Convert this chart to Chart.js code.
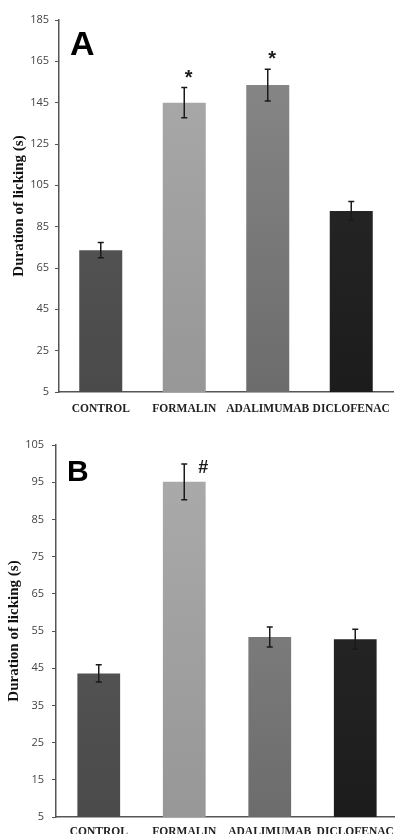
<!DOCTYPE html>
<html>
<head>
<meta charset="utf-8">
<script src="https://cdn.jsdelivr.net/npm/chart.js@4.4.1/dist/chart.umd.min.js"></script>
<style>
	html, body { margin: 0; padding: 0; background: #fff; overflow: hidden; }
	.panel { position: relative; overflow: hidden; width: 395px; }
	#panelA { height: 420px; }
	#panelB { height: 414px; }
	canvas { display: block; }
</style>
</head>
<body>
<div class="panel" id="panelA"><canvas id="chartA" width="395" height="420"></canvas></div>
<div class="panel" id="panelB"><canvas id="chartB" width="400" height="414"></canvas></div>
<script>
const groups = ["CONTROL", "FORMALIN", "ADALIMUMAB", "DICLOFENAC"];

/* Panel A */
const lickingA = [73.6, 145.0, 153.5, 92.6];
const errorA = [3.7, 7.3, 7.7, 4.6];
const marksA = ["", "*", "*", ""];
const ticksA = [5, 25, 45, 65, 85, 105, 125, 145, 165, 185];

/* Panel B */
const lickingB = [43.6, 95.1, 53.4, 52.8];
const errorB = [2.3, 4.8, 2.7, 2.7];
const marksB = ["", "#", "", ""];
const ticksB = [5, 15, 25, 35, 45, 55, 65, 75, 85, 95, 105];

const barTop = ["#5e5e5e", "#ababab", "#8a8a8a", "#2c2c2c"];
const barBottom = ["#4a4a4a", "#979797", "#6c6c6c", "#1c1c1c"];

const barFill = (context) => {
	const area = context.chart.chartArea;
	if (!area) return barTop[context.dataIndex];
	const g = context.chart.ctx.createLinearGradient(0, area.top, 0, area.bottom);
	g.addColorStop(0, barTop[context.dataIndex]);
	g.addColorStop(1, barBottom[context.dataIndex]);
	return g;
};

const errorBarPlugin = {
	id: "errorBars",
	afterDatasetsDraw(chart, args, opts) {
		const ctx = chart.ctx;
		const yScale = chart.scales.y;
		const meta = chart.getDatasetMeta(0);
		const values = chart.data.datasets[0].data;

		ctx.save();
		ctx.strokeStyle = "#1a1a1a";
		ctx.lineWidth = 1.5;

		meta.data.forEach((bar, i) => {
			const top = yScale.getPixelForValue(values[i] + opts.errors[i]);
			const bottom = yScale.getPixelForValue(values[i] - opts.errors[i]);
			ctx.beginPath();
			ctx.moveTo(bar.x, top);
			ctx.lineTo(bar.x, bottom);
			ctx.moveTo(bar.x - 3, top);
			ctx.lineTo(bar.x + 3, top);
			ctx.moveTo(bar.x - 3, bottom);
			ctx.lineTo(bar.x + 3, bottom);
			ctx.stroke();

			const mark = opts.marks[i];
			if (mark) {
				ctx.fillStyle = "#1a1a1a";
				ctx.font = opts.markFont;
				ctx.textAlign = "center";
				ctx.textBaseline = "alphabetic";
				ctx.fillText(mark, bar.x + opts.markDx, top + opts.markDy);
			}
		});

		// panel letter
		const area = chart.chartArea;
		ctx.fillStyle = "#000";
		ctx.font = opts.letterFont;
		ctx.textAlign = "left";
		ctx.textBaseline = "alphabetic";
		ctx.fillText(opts.letter, area.left + 11, area.top + opts.letterDy);
		ctx.restore();
	}
};

function createPanel(canvasId, values, cfg) {
	const canvas = document.getElementById(canvasId);

	return new Chart(canvas, {
		type: "bar",
		data: {
			labels: groups,
			datasets: [{
				data: values,
				backgroundColor: barFill,
				borderWidth: 0,
				categoryPercentage: 1,
				barPercentage: cfg.barPercentage
			}]
		},
		options: {
			responsive: false,
			animation: false,
			devicePixelRatio: 1,
			layout: {
				padding: { left: 0, right: 2, top: cfg.top, bottom: 0 }
			},
			plugins: {
				legend: { display: false },
				tooltip: { enabled: false },
				errorBars: cfg.errorBars
			},
			scales: {
				x: {
					grid: { display: false },
					border: { display: true, color: "#555", width: 1.5 },
					ticks: {
						color: "#222",
						padding: cfg.labelPad,
						autoSkip: false,
						maxRotation: 0,
						font: { family: "'Liberation Serif', 'Times New Roman', serif", size: 11.5, weight: "bold" }
					},
					afterFit: (scale) => { scale.height = cfg.xHeight; }
				},
				y: {
					min: cfg.ticks[0],
					max: cfg.ticks[cfg.ticks.length - 1],
					afterBuildTicks: (scale) => {
						scale.ticks = cfg.ticks.map((v) => ({ value: v }));
					},
					grid: {
						display: true,
						drawOnChartArea: false,
						drawTicks: true,
						tickLength: 4,
						color: "#555",
						tickColor: "#555"
					},
					border: { display: true, color: "#555", width: 1.5 },
					ticks: {
						color: "#444",
						padding: cfg.tickPad,
						font: { family: "'Open Sans', sans-serif", size: 11 }
					},
					title: {
						display: true,
						text: "Duration of licking (s)",
						color: "#111",
						padding: { top: cfg.titlePad, bottom: 0 },
						font: { family: "'Liberation Serif', 'Times New Roman', serif", size: 15, weight: "bold" }
					},
					afterFit: (scale) => { scale.width = cfg.yWidth; }
				}
			}
		},
		plugins: [errorBarPlugin]
	});
}

createPanel("chartA", lickingA, {
	ticks: ticksA,
	top: 20,
	xHeight: 28,
	yWidth: 59,
	tickPad: 6,
	titlePad: 10,
	labelPad: 2,
	barPercentage: 0.515,
	errorBars: {
		errors: errorA,
		marks: marksA,
		markFont: "bold 20px 'Liberation Sans', Arial, sans-serif",
		markDx: 4.5,
		markDy: -4,
		letter: "A",
		letterFont: "bold 34px 'Liberation Sans', Arial, sans-serif",
		letterDy: 35
	}
});

createPanel("chartB", lickingB, {
	ticks: ticksB,
	top: 25,
	xHeight: 17,
	yWidth: 56,
	tickPad: 8,
	titlePad: 5,
	labelPad: 0,
	barPercentage: 0.5,
	errorBars: {
		errors: errorB,
		marks: marksB,
		markFont: "bold 18px 'Liberation Sans', Arial, sans-serif",
		markDx: 19,
		markDy: 9,
		letter: "B",
		letterFont: "bold 30px 'Liberation Sans', Arial, sans-serif",
		letterDy: 36
	}
});
</script>
</body>
</html>
